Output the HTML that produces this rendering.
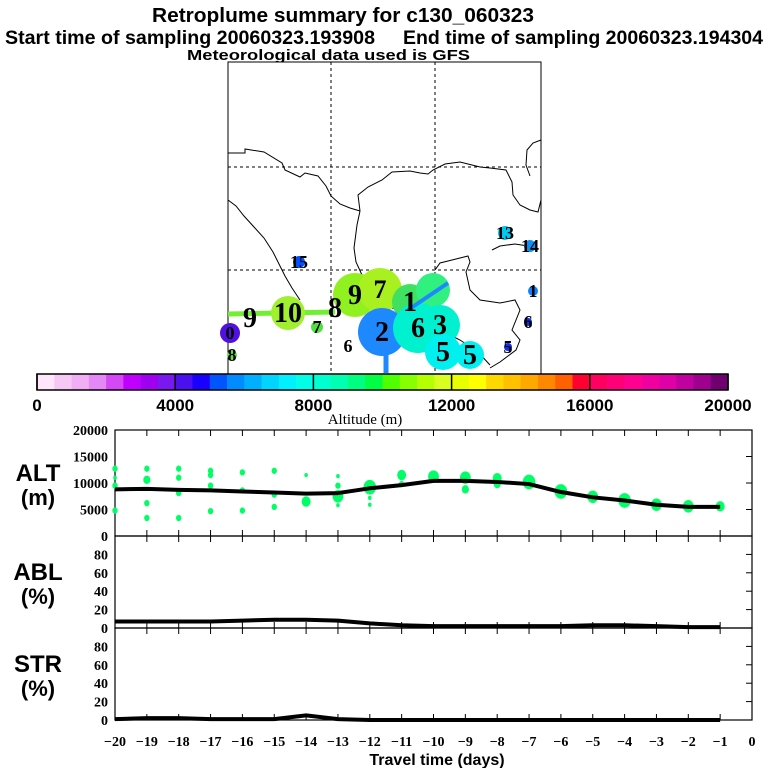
<!DOCTYPE html>
<html><head><meta charset="utf-8"><style>
html,body{margin:0;padding:0;background:#fff;width:768px;height:768px;overflow:hidden}
svg{display:block;font-family:"Liberation Sans",sans-serif}
.t{font-weight:bold}
.s{font-family:"Liberation Serif",serif}
</style></head><body>
<svg id="c" width="768" height="768" viewBox="0 0 768 768" xmlns="http://www.w3.org/2000/svg">
<text class="t" x="152" y="22" font-size="20" textLength="382" lengthAdjust="spacingAndGlyphs">Retroplume summary for c130_060323</text>
<text class="t" x="5" y="44" font-size="19" textLength="370" lengthAdjust="spacingAndGlyphs">Start time of sampling 20060323.193908</text>
<text class="t" x="403" y="44" font-size="19" textLength="360" lengthAdjust="spacingAndGlyphs">End time of sampling 20060323.194304</text>
<text class="t" x="187" y="60" font-size="15" textLength="283" lengthAdjust="spacingAndGlyphs">Meteorological data used is GFS</text>
<g id="map">
<rect x="228" y="62" width="313" height="312" fill="#fff" stroke="#000"/>
<g stroke="#000" stroke-dasharray="3,3" stroke-width="1">
<line x1="331" y1="62" x2="331" y2="374"/><line x1="435" y1="62" x2="435" y2="374"/>
<line x1="228" y1="167" x2="541" y2="167"/><line x1="228" y1="270" x2="541" y2="270"/>
</g>
<g fill="none" stroke="#000" stroke-width="1">
<polyline points="228,153 245,153 245,149 264,152 282,163 285,170 300,177 305,173 318,176 326,186 331,196 340,204 350,208 360,211"/>
<polyline points="360,211 357,225 354,248 356,262 362,275 370,276"/>
<polyline points="360,211 358,195 368,187 382,180 392,172 410,171 420,173 428,174 433,170 445,164 460,162 480,167 490,168 506,170 512,182 513,195 520,205 530,210 538,212 541,200"/>
<polyline points="541,140 533,143 527,150 526,165 530,176"/>
<polyline points="228,200 236,206 244,216 254,227 264,238 273,252 278,262 285,276 292,288 300,300"/>
<polyline points="435,270 440,263 452,260 468,256 470,262 466,272 470,290 480,300 500,303 515,300 520,310 512,330 520,340 516,350 500,362 490,368"/>
<polyline points="492,250 500,246 515,244 528,246 536,250"/>
<polyline points="360,300 380,305 400,310 420,320 440,330 460,340 478,352 490,365"/>
</g>
</g>
<g id="cbar"></g>
<text class="s" x="365" y="424" font-size="15" text-anchor="middle">Altitude (m)</text>
<g id="plots"></g>
<text class="t" x="437" y="765" font-size="16" text-anchor="middle">Travel time (days)</text>
</svg>
<script>
const NS="http://www.w3.org/2000/svg";
const svg=document.getElementById('c');
function mk(tag,attrs,parent){const e=document.createElementNS(NS,tag);for(const k in attrs)e.setAttribute(k,attrs[k]);(parent||svg).appendChild(e);return e;}

// ---- colorbar data ----
const cbColors=["#ffe6fa","#f8c8f5","#f0aef5","#e488f5","#d548f5","#c000ff","#a000f0","#7a18f0",
"#4a10f0","#1a00ff","#0055ff","#008cff","#00b0ff","#00d4ff","#00f0ff","#00ffe6",
"#00ffd0","#00ffb0","#00ff80","#00ff44","#50ff00","#88ff00","#b4ff00","#d8ff20",
"#e8ff00","#ffff00","#ffd800","#ffc000","#ffa800","#ff8800","#ff6000","#ff0030",
"#ff0060","#ff0078","#ff0090","#f000a0","#e000a8","#c000a0","#a00090","#700070"];
const cbTicks=[0,4000,8000,12000,16000,20000];
const cbX=v=>37+v/20000*691;
const cb=document.getElementById('cbar');
cbColors.forEach((c,i)=>{const r=mk('rect',{x:cbX(i*500),y:374,width:691/40+0.3,height:16,fill:c},cb);

});
mk('rect',{x:37,y:374,width:691,height:16,fill:'none',stroke:'#000','stroke-width':1.5},cb);
cbTicks.forEach(v=>{mk('line',{x1:cbX(v),y1:374,x2:cbX(v),y2:390,stroke:'#000','stroke-width':1.5},cb);
const t=mk('text',{x:cbX(v),y:411,'font-size':17,'text-anchor':'middle','class':'t'},cb);t.textContent=v;

});

// ---- map markers ----
const markX=[230,288,317,355,380,410,433,382,418,440,443,470,299,505,530,533,528,508,232];
const markY=[333,313,327,295,290,302,290,332,328,325,352,355,262,233,246,291,322,347,355];
const markR=[10,17,6,22,22,18,17,24,25,20,18,14,6,7,6,5,4,4,5];
const markC=["#5010e0","#a0f030","#50e040","#90f020","#a8f020","#40e060","#30f080","#1e88ff","#00f0d0","#00f0d0","#00f0f0","#00f0f0","#0050ff","#00c8f0","#1090f0","#1080ff","#1030f0","#1030f0","#60e040"];
const markL=["0","10","7","9","","1","","2","6","3","5","5","15","13","14","1","6","5","8"];
const map=document.getElementById('map');
mk('line',{x1:228,y1:314,x2:335,y2:312,stroke:'#70f030','stroke-width':5},map);
mk('line',{x1:386,y1:340,x2:386,y2:373,stroke:'#1e88ff','stroke-width':5},map);
markX.forEach((x,i)=>{const c=mk('circle',{cx:x,cy:markY[i],r:markR[i],fill:markC[i]},map);

});
mk('line',{x1:408,y1:310,x2:448,y2:283,stroke:'#1e88ff','stroke-width':4},map);
markX.forEach((x,i)=>{if(!markL[i])return;const big=markR[i]>12;
const t=mk('text',{x:x,y:markY[i]+(big?9:6),'font-size':big?28:18,'text-anchor':'middle','class':'s','font-weight':'bold'},map);t.textContent=markL[i];

});
[["9",250,327,28],["8",335,317,28],["6",348,352,18],["7",380,298,26]].forEach(a=>{const t=mk('text',{x:a[1],y:a[2],'font-size':a[3],'text-anchor':'middle','class':'s','font-weight':'bold'},map);t.textContent=a[0];

});

// ---- time series data ----
const days=[-20,-19,-18,-17,-16,-15,-14,-13,-12,-11,-10,-9,-8,-7,-6,-5,-4,-3,-2,-1];
const altMedian=[8800,8900,8700,8600,8400,8200,8000,8100,9000,9600,10400,10400,10200,9800,8300,7300,6700,5900,5500,5500];
const ablPct=[7,7,7,7,8,9,9,8,5,3,2,2,2,2,2,3,3,2,1,1];
const strPct=[1,2,2,1,1,1,5,1,0,0,0,0,0,0,0,0,0,0,0,0];
const dotDay=[-20,-20,-20,-20,-19,-19,-19,-19,-18,-18,-18,-18,-17,-17,-17,-17,-16,-16,-16,-15,-15,-15,-14,-14,-13,-13,-13,-13,-12,-12,-12,-11,-11,-10,-9,-9,-8,-8,-7,-6,-5,-4,-3,-2,-1];
const dotAlt=[12700,11000,9500,4800,12700,10600,6200,3400,12700,11000,8100,3400,12300,9500,4700,11500,12000,8600,4800,12300,7800,5500,11500,6500,11300,9500,7500,5800,9200,7200,5900,11500,9800,11200,11000,8800,10900,9800,10200,8400,7400,6700,5900,5600,5600];
const dotR=[3,2,3,3,3,4,3,3,3,3,3,3,3,3,3,3,3,3,3,3,3,3,2,5,2,3,6,2,7,2,2,5,3,6,6,4,5,4,7,7,6,7,6,6,5];

const xs=d=>115+(d+20)/20*637;
const P=document.getElementById('plots');
const panels=[{top:430,bot:536,max:20000,ticks:[0,5000,10000,15000,20000],lab:["ALT","(m)"],name:'alt'},
{top:536,bot:628,max:100,ticks:[0,20,40,60,80],lab:["ABL","(%)"],name:'abl'},
{top:628,bot:720,max:100,ticks:[0,20,40,60,80],lab:["STR","(%)"],name:'str'}];
panels.forEach(p=>{
 const ys=v=>p.bot-v/p.max*(p.bot-p.top);
 const g=mk('g',{},P);
 
 
 mk('rect',{x:115,y:p.top,width:637,height:p.bot-p.top,fill:'none',stroke:'#000','stroke-width':1.2},g);
 for(let d=-19;d<=-1;d++){mk('line',{x1:xs(d),y1:p.top,x2:xs(d),y2:p.top+6,stroke:'#000'},g);mk('line',{x1:xs(d),y1:p.bot,x2:xs(d),y2:p.bot-6,stroke:'#000'},g);}
 p.ticks.forEach(v=>{mk('line',{x1:752,y1:ys(v),x2:746,y2:ys(v),stroke:'#000'},g);
  const t=mk('text',{x:108,y:ys(v)+5,'font-size':14,'text-anchor':'end','class':'s','font-weight':'bold'},g);t.textContent=v;
  
  });
 const mid=(p.top+p.bot)/2;
 const a=mk('text',{x:38,y:mid-2,'font-size':24,'text-anchor':'middle','class':'t'},g);a.textContent=p.lab[0];
 
 
 const b=mk('text',{x:38,y:mid+22,'font-size':22,'text-anchor':'middle','class':'t'},g);b.textContent=p.lab[1];
 
 
 p.ys=ys;p.g=g;
});
dotDay.forEach((d,i)=>{const e=mk('ellipse',{cx:xs(d),cy:panels[0].ys(dotAlt[i]),rx:dotR[i]*0.9,ry:dotR[i]*1.05,fill:'#00ff66'},panels[0].g);

});
function line(p,vals,name){const pts=days.map((d,i)=>xs(d)+','+p.ys(vals[i])).join(' ');
const l=mk('polyline',{points:pts,fill:'none',stroke:'#000','stroke-width':4,'stroke-linejoin':'round'},p.g);

}
line(panels[0],altMedian,'altitude-median-line');
line(panels[1],ablPct,'abl-line');
line(panels[2],strPct,'str-line');
for(let d=-20;d<=0;d++){const t=mk('text',{x:xs(d),y:746,'font-size':14,'text-anchor':'middle','class':'s','font-weight':'bold'},P);t.textContent=(d<0?'\u2212':'')+Math.abs(d);

}
</script>
</body></html>
